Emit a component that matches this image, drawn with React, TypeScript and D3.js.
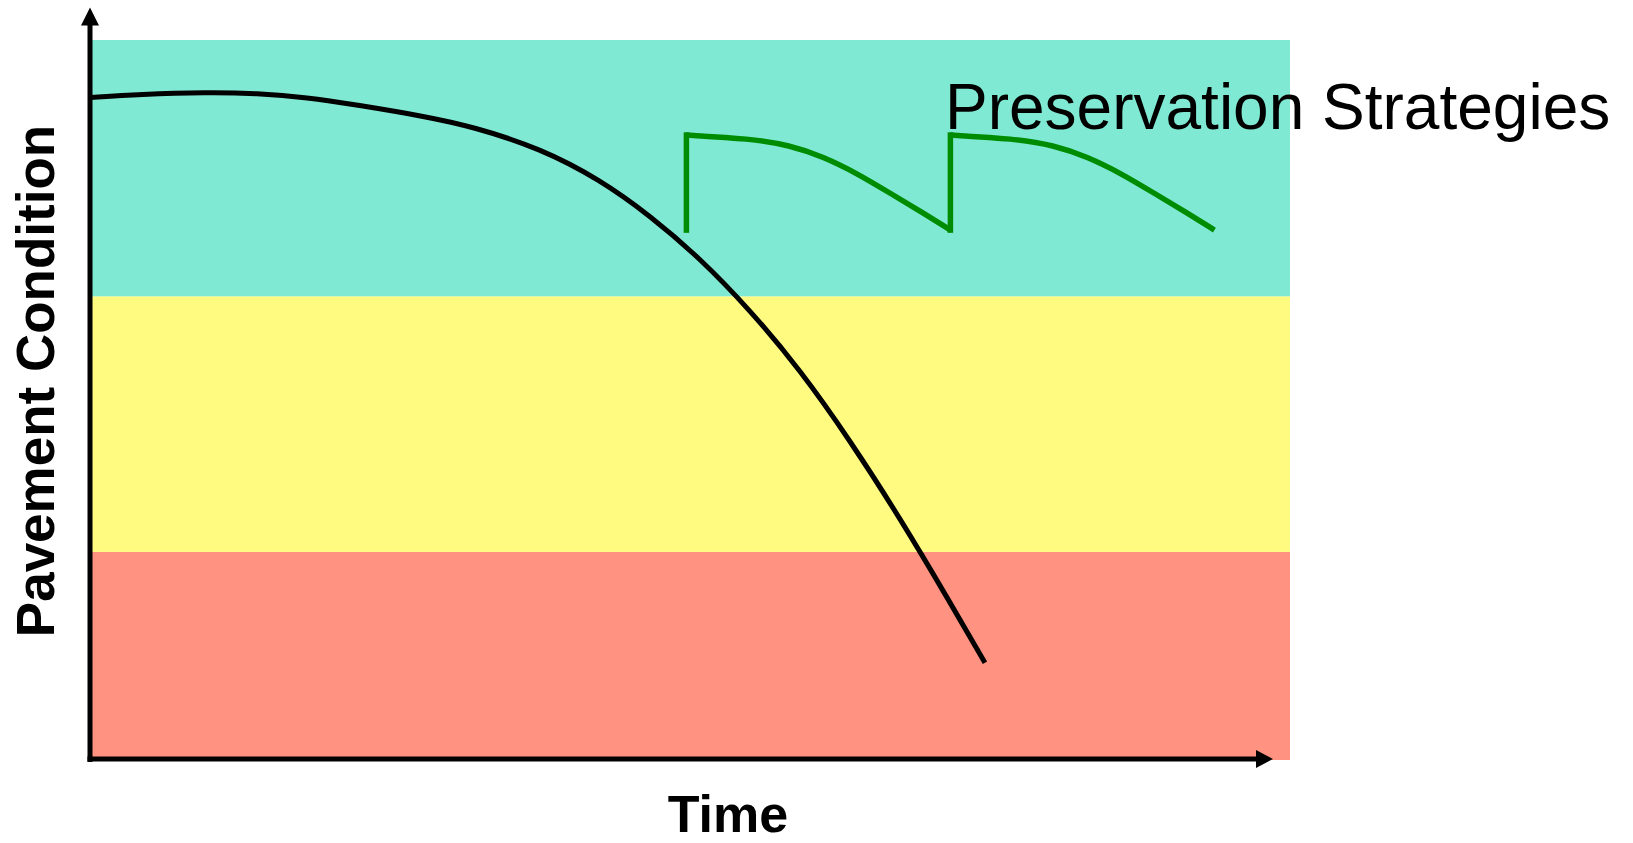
import React from "react";
import * as d3 from "d3";

// Condition bands (condition score 0–100): poor, fair, good
const bandNames = ["Poor", "Fair", "Good"];
const bandLower = [0, 28.9, 64.4];
const bandUpper = [28.9, 64.4, 100];
const bandColors = ["#FF9280", "#FFFA80", "#80E9D4"];

// Do-nothing deterioration curve (time 0–100, condition 0–100)
const decayTime = [0, 4.17, 9.75, 13.92, 18.08, 22.25, 27.75, 31.92, 37.5, 42.5, 46.67, 50.83, 55.0, 59.17, 63.33, 67.5, 71.67, 74.58];
const decayCondition = [92.0, 92.46, 92.74, 92.6, 92.04, 90.97, 89.44, 87.96, 84.96, 80.6, 75.6, 69.7, 62.5, 54.2, 44.4, 33.6, 21.9, 13.5];

// Preservation cycles: treatment applied, condition restored, then a slower decline
const treatmentTime = [49.7, 71.7];
const treatmentFrom = [73.6, 73.6];
const treatmentTo = [86.8, 86.8];
const cycle1Time = [49.7, 55.0, 58.3, 61.1, 63.9, 66.7, 69.4, 71.7];
const cycle2Time = [71.7, 77.0, 80.3, 83.1, 85.9, 88.7, 91.4, 93.7];
const cycleCondition = [86.8, 86.3, 85.4, 83.8, 81.5, 78.7, 76.0, 73.6];

const W = 1633;
const H = 843;
const FONT = "'Liberation Sans', Arial, Helvetica, sans-serif";

export default function App() {
  const x = d3.scaleLinear().domain([0, 100]).range([90, 1290]);
  const y = d3.scaleLinear().domain([0, 100]).range([760, 40]);

  const line = d3
    .line<[number, number]>()
    .x((d) => x(d[0]))
    .y((d) => y(d[1]))
    .curve(d3.curveBasis);

  const decayPts = decayTime.map((t, i) => [t, decayCondition[i]] as [number, number]);
  const cycles = [cycle1Time, cycle2Time].map((ts) =>
    ts.map((t, i) => [t, cycleCondition[i]] as [number, number])
  );

  const axisX = x(0);
  const axisY = y(0) - 1;
  const arrowTipY = 7.5;
  const arrowTipX = 1273;

  return (
    <>
      <style>{`body{margin:0;background:#fff}`}</style>
      <svg width={W} height={H} style={{ display: "block" }}>
        {bandNames.map((name, i) => (
          <rect
            key={name}
            x={x(0)}
            width={x(100) - x(0)}
            y={y(bandUpper[i])}
            height={y(bandLower[i]) - y(bandUpper[i])}
            fill={bandColors[i]}
          />
        ))}

        {/* deterioration without treatment */}
        <path d={line(decayPts) ?? ""} fill="none" stroke="#000" strokeWidth={5} />

        {/* preservation treatments */}
        {treatmentTime.map((t, i) => (
          <line
            key={"t" + i}
            x1={x(t)}
            x2={x(t)}
            y1={y(treatmentFrom[i])}
            y2={y(treatmentTo[i])}
            stroke="#008C00"
            strokeWidth={5.5}
            strokeLinecap="square"
          />
        ))}
        {cycles.map((pts, i) => (
          <path
            key={"c" + i}
            d={line(pts) ?? ""}
            fill="none"
            stroke="#008C00"
            strokeWidth={5.5}
          />
        ))}

        {/* axes with arrowheads */}
        <line x1={axisX} x2={axisX} y1={axisY + 3} y2={arrowTipY + 12} stroke="#000" strokeWidth={5} />
        <path
          d={`M${axisX},${arrowTipY} L${axisX - 9},${arrowTipY + 18} L${axisX + 9},${arrowTipY + 18} Z`}
          fill="#000"
        />
        <line x1={axisX - 2.5} x2={arrowTipX - 12} y1={axisY} y2={axisY} stroke="#000" strokeWidth={5} />
        <path
          d={`M${arrowTipX},${axisY} L${arrowTipX - 17},${axisY - 9} L${arrowTipX - 17},${axisY + 9} Z`}
          fill="#000"
        />

        <text
          transform="translate(54,381) rotate(-90)"
          textAnchor="middle"
          fontFamily={FONT}
          fontWeight="bold"
          fontSize={53}
          fill="#000"
        >
          Pavement Condition
        </text>
        <text x={728} y={832} textAnchor="middle" fontFamily={FONT} fontWeight="bold" fontSize={52} fill="#000">
          Time
        </text>
        <text x={945} y={129} fontFamily={FONT} fontSize={64} fill="#000">
          Preservation Strategies
        </text>
      </svg>
    </>
  );
}
